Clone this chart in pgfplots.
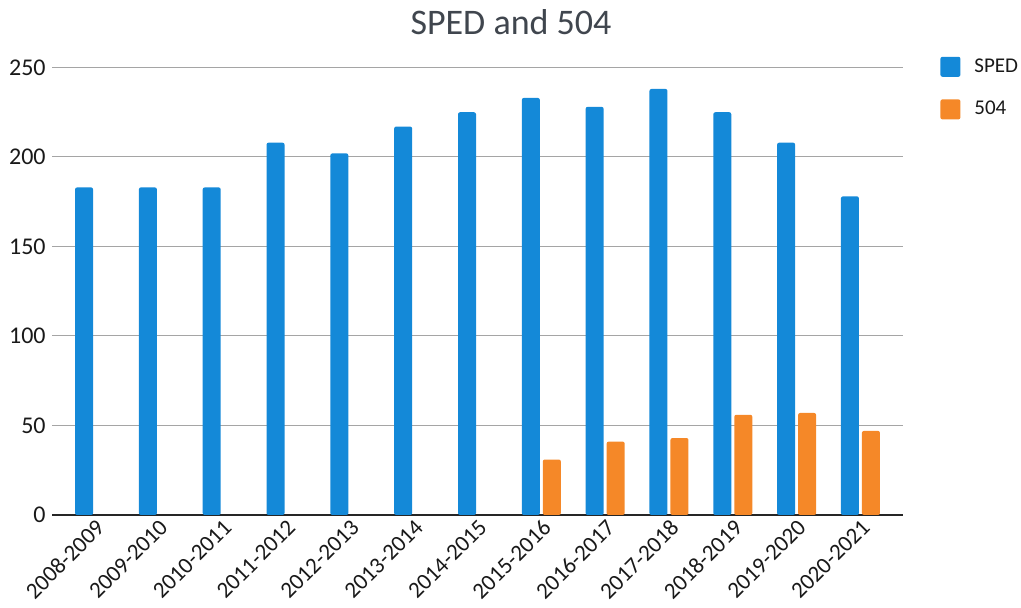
\documentclass[border=0pt]{standalone}
\usepackage{pgfplots}
\pgfplotsset{compat=1.18}
\usepackage{fontspec}
\setmainfont{Carlito}

\definecolor{spedblue}{RGB}{20,137,216}
\definecolor{orange504}{RGB}{245,136,40}
\definecolor{gridgray}{RGB}{165,165,165}
\definecolor{textdark}{RGB}{25,25,25}
\definecolor{titlegray}{RGB}{64,70,78}

\begin{document}
\begin{tikzpicture}
\useasboundingbox (0,0) rectangle (510.5pt,304pt);
\node[font=\fontsize{18}{20}\selectfont, text=titlegray, anchor=center] at (255.5pt,293pt) {SPED and 504};
\begin{axis}[
  at={(26pt,46.5pt)}, anchor=south west,
  scale only axis,
  width=425.5pt, height=223.75pt,
  xmin=-0.667, xmax=12.667,
  ymin=0, ymax=250,
  ytick={0,50,100,150,200,250},
  xtick={0,...,12},
  xticklabels={2008-2009,2009-2010,2010-2011,2011-2012,2012-2013,2013-2014,2014-2015,2015-2016,2016-2017,2017-2018,2018-2019,2019-2020,2020-2021},
  xticklabel style={rotate=45, anchor=north east, inner sep=1pt, font=\fontsize{11.5}{12}\selectfont, text=textdark},
  yticklabel style={font=\fontsize{12}{13}\selectfont, text=textdark, inner sep=1pt, xshift=-2pt},
  /pgf/number format/assume math mode=true,
  axis x line*=bottom,
  axis y line*=left,
  y axis line style={draw=none},
  x axis line style={draw=black!85, line width=1pt, -},
  major tick length=0pt,
  ymajorgrids,
  grid style={gridgray, line width=0.5pt},
  ybar,
  bar width=9pt,
  clip=false,
  legend style={at={(1.0435,1.03)}, anchor=north west, draw=none, fill=none,
    font=\fontsize{10.5}{12}\selectfont, text=textdark,
    row sep=9pt, inner sep=0pt},
  legend cell align=left,
  legend image code/.code={\fill[#1] (0pt,-5pt) rectangle (10pt,5pt); \path (15pt,0pt);},
]
\addplot[fill=spedblue, draw=none, bar shift=-5.25pt, rounded corners=1pt] coordinates {
  (0,183) (1,183) (2,183) (3,208) (4,202) (5,217) (6,225)
  (7,233) (8,228) (9,238) (10,225) (11,208) (12,178)
};
\addlegendentry{SPED}
\addplot[fill=orange504, draw=none, bar shift=5.25pt, rounded corners=1pt] coordinates {
  (7,31) (8,41) (9,43) (10,56) (11,57) (12,47)
};
\addlegendentry{504}
\end{axis}
\end{tikzpicture}
\end{document}
